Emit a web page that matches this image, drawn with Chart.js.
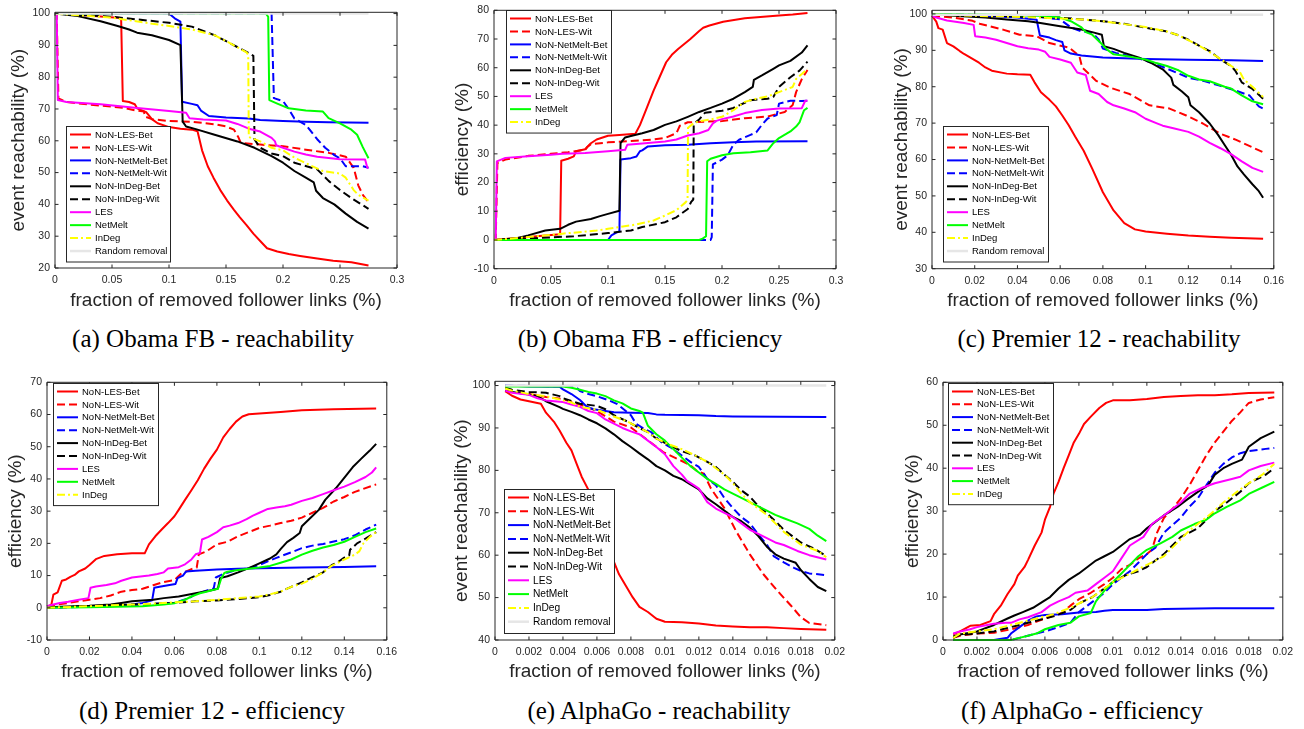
<!DOCTYPE html>
<html>
<head>
<meta charset="utf-8">
<script src="https://cdn.jsdelivr.net/npm/chart.js@4.4.1/dist/chart.umd.min.js"></script>
<style>
  html, body { margin: 0; padding: 0; background: #fff; }
  #page { position: relative; width: 1304px; height: 729px; overflow: hidden; }
  canvas { position: absolute; }
  .cap { position: absolute; width: 420px; text-align: center; font: 25px "Liberation Serif", "Times New Roman", serif; color: #000; line-height: 30px; white-space: nowrap; }
</style>
</head>
<body>
<div id="page"></div>
<script>
// series names, shared by all six panels
const LABELS = ["NoN-LES-Bet", "NoN-LES-Wit", "NoN-NetMelt-Bet", "NoN-NetMelt-Wit",
  "NoN-InDeg-Bet", "NoN-InDeg-Wit", "LES", "NetMelt", "InDeg", "Random removal"];

// ---- (a) Obama FB - reachability
const aXTicks = [0, 0.05, 0.1, 0.15, 0.2, 0.25, 0.3];
const aYTicks = [20, 30, 40, 50, 60, 70, 80, 90, 100];
const aLesBet = [[0,100],[0.02,99.6],[0.04,99.1],[0.058,98.6],[0.0595,72.5],[0.065,72.2],[0.07,71.5],[0.072,70.2],[0.08,69],[0.085,66.8],[0.09,65.5],[0.1,64.3],[0.11,63.8],[0.12,63.5],[0.125,63],[0.129,57],[0.134,52],[0.139,48.4],[0.145,44.5],[0.151,41.2],[0.157,38.3],[0.162,36],[0.168,33.5],[0.174,30.8],[0.18,28.5],[0.186,26.2],[0.195,25.2],[0.205,24.4],[0.215,23.8],[0.23,23],[0.244,22.3],[0.26,21.8],[0.275,20.8]];
const aLesWit = [[0,100],[0.0015,100],[0.003,73.3],[0.01,72.2],[0.03,71.4],[0.06,70.4],[0.07,69.6],[0.078,69.2],[0.079,67.6],[0.085,66.8],[0.1,66.2],[0.12,66],[0.14,65.2],[0.15,64.5],[0.157,63.5],[0.161,61],[0.163,59.3],[0.18,58.8],[0.2,58.3],[0.22,57.2],[0.24,56.2],[0.255,55],[0.262,51.5],[0.266,46],[0.27,43],[0.275,40.7]];
const aNmBet = [[0,100],[0.1,100],[0.105,98.5],[0.11,97.5],[0.1115,72.3],[0.12,71.6],[0.125,71.2],[0.128,69.5],[0.135,67.8],[0.15,67.3],[0.17,67],[0.18,66.5],[0.2,66.2],[0.22,66],[0.24,65.8],[0.275,65.7]];
const aNmWit = [[0,100],[0.19,100],[0.192,73.4],[0.2,72.5],[0.205,70],[0.21,67],[0.22,65],[0.23,60.5],[0.237,57.8],[0.245,55.5],[0.25,54.5],[0.255,52],[0.27,52],[0.275,51.5]];
const aIdBet = [[0,100],[0.02,99.2],[0.04,97.6],[0.055,96.1],[0.065,95],[0.072,94],[0.085,93.2],[0.1,91.7],[0.11,90.1],[0.112,66],[0.115,64.5],[0.125,63.5],[0.14,61.9],[0.16,59.8],[0.175,57.8],[0.19,55.2],[0.2,53.1],[0.21,50.5],[0.22,48.4],[0.227,46.9],[0.229,44.3],[0.235,42],[0.245,40],[0.255,37.1],[0.265,34.5],[0.275,32.4]];
const aIdWit = [[0,100],[0.05,99],[0.1,97.1],[0.12,95.9],[0.14,93.2],[0.155,90.4],[0.17,87.6],[0.174,86.7],[0.175,60.4],[0.18,57.8],[0.19,56],[0.2,55.2],[0.21,53.1],[0.23,51],[0.24,47.4],[0.25,44.5],[0.26,42],[0.275,38.6]];
const aLes = [[0,100],[0.0015,100],[0.0025,72.8],[0.01,72.2],[0.04,71.5],[0.07,70.4],[0.1,69.4],[0.115,68.8],[0.118,67.1],[0.13,66.7],[0.15,66.4],[0.16,65.3],[0.17,63.8],[0.18,62.9],[0.19,60.9],[0.193,59.8],[0.194,58.6],[0.2,57.8],[0.21,56.6],[0.22,55.7],[0.23,55],[0.25,54.2],[0.272,54.1],[0.274,51.5],[0.275,51.5]];
const aNm = [[0,100],[0.185,100],[0.187,99],[0.188,72.8],[0.195,71.7],[0.205,70.2],[0.22,69.5],[0.235,69.2],[0.24,67.1],[0.25,65.5],[0.26,63.5],[0.265,61.9],[0.27,58],[0.275,54.5]];
const aId = [[0,100],[0.02,99.5],[0.05,98.7],[0.08,97.1],[0.1,96.1],[0.12,95],[0.14,93.2],[0.155,90.4],[0.168,87.8],[0.1695,87],[0.17,61.2],[0.18,59.8],[0.19,57.8],[0.2,57],[0.21,54.7],[0.225,52.1],[0.235,50.5],[0.25,49.7],[0.255,48.4],[0.262,44.5],[0.266,43],[0.275,41.2]];
const aRnd = [[0,100],[0.275,100]];

// ---- (b) Obama FB - efficiency
const bXTicks = [0, 0.05, 0.1, 0.15, 0.2, 0.25, 0.3];
const bYTicks = [-10, 0, 10, 20, 30, 40, 50, 60, 70, 80];
const bLesBet = [[0,0],[0.03,1],[0.058,2],[0.059,27.6],[0.065,28.3],[0.07,29.1],[0.072,30.9],[0.08,31.6],[0.085,33.7],[0.09,35],[0.1,36.3],[0.11,36.6],[0.124,37],[0.128,40],[0.133,45],[0.14,52],[0.145,56.5],[0.151,61.9],[0.156,64.5],[0.1615,66.5],[0.172,69.9],[0.18,72.8],[0.1835,73.9],[0.189,74.7],[0.201,76],[0.22,77.2],[0.25,78.2],[0.262,78.5],[0.275,79.1]];
const bLesWit = [[0,0],[0.0015,0],[0.003,26.8],[0.01,28],[0.03,29.3],[0.05,30],[0.065,30.6],[0.08,31.4],[0.082,32.5],[0.085,33.4],[0.1,34],[0.12,34.5],[0.14,35],[0.15,35.5],[0.16,37.2],[0.163,39.8],[0.17,41],[0.2,41.4],[0.22,42.4],[0.24,43],[0.255,44.6],[0.262,47],[0.265,51.5],[0.27,56],[0.275,59.2]];
const bNmBet = [[0,0],[0.1,0],[0.103,1.6],[0.108,2.7],[0.11,3],[0.111,28],[0.12,28.5],[0.125,29.1],[0.128,30.9],[0.13,31.2],[0.135,32.6],[0.15,33],[0.17,33.2],[0.19,33.7],[0.21,34],[0.23,34.3],[0.275,34.4]];
const bNmWit = [[0,0],[0.19,0],[0.191,1],[0.192,26.3],[0.2,28],[0.205,29.5],[0.21,33.2],[0.215,34.9],[0.225,36.6],[0.23,37.5],[0.235,40.1],[0.24,42.3],[0.248,43.5],[0.25,47.5],[0.26,48.5],[0.27,48.4],[0.275,48.5]];
const bIdBet = [[0,0],[0.02,0.6],[0.03,1.6],[0.045,3.3],[0.058,3.9],[0.065,5.3],[0.072,6.4],[0.085,7.3],[0.093,8.3],[0.1,9.1],[0.11,10.2],[0.111,33.7],[0.115,35.7],[0.12,36.2],[0.13,37.2],[0.14,38.3],[0.15,40.1],[0.16,41.3],[0.17,42.9],[0.18,44.6],[0.19,46],[0.2,47.5],[0.21,49.2],[0.22,51.5],[0.227,53.3],[0.228,55.8],[0.235,57.3],[0.245,59.6],[0.25,60.8],[0.26,62.4],[0.27,65.3],[0.275,67.8]];
const bIdWit = [[0,0],[0.03,0.5],[0.07,1.3],[0.1,2.4],[0.12,3.3],[0.13,4.5],[0.15,6.2],[0.16,7.9],[0.17,10.8],[0.173,13.3],[0.1748,14.1],[0.1752,40.4],[0.18,42],[0.185,44.3],[0.2,45],[0.21,46],[0.225,48.7],[0.24,49.2],[0.245,49.8],[0.25,53.3],[0.26,56.7],[0.268,59],[0.275,62.1]];
const bLes = [[0,0],[0.0015,0],[0.0025,27.4],[0.01,28.6],[0.03,29.2],[0.05,29.7],[0.06,30],[0.08,30.3],[0.1,30.9],[0.115,31.4],[0.117,33.2],[0.13,33.6],[0.15,34.3],[0.16,35],[0.17,36.4],[0.18,37.2],[0.188,38.3],[0.192,40.6],[0.195,41.5],[0.2,42.1],[0.21,43],[0.22,44.2],[0.235,45.3],[0.25,45.8],[0.27,45.9],[0.273,48.5],[0.275,48.5]];
const bNm = [[0,0],[0.18,0],[0.183,0.5],[0.186,1.3],[0.187,27.4],[0.19,28.3],[0.2,29.5],[0.21,30.2],[0.225,30.6],[0.24,31.2],[0.245,33.7],[0.25,35.5],[0.26,37.8],[0.265,39.5],[0.268,41],[0.272,45.2],[0.275,46]];
const bId = [[0,0],[0.03,1],[0.06,2.2],[0.09,3.3],[0.1,3.9],[0.11,4.5],[0.125,5.4],[0.14,6.8],[0.15,8.5],[0.16,10.4],[0.168,13.1],[0.1698,14],[0.1702,39.1],[0.175,40.6],[0.18,41.4],[0.19,42],[0.2,42.9],[0.21,45.2],[0.22,48.1],[0.23,49.2],[0.24,50],[0.25,51.5],[0.262,53.3],[0.265,56.1],[0.27,57.8],[0.275,59.6]];

// ---- (c) Premier 12 - reachability
const cXTicks = [0, 0.02, 0.04, 0.06, 0.08, 0.1, 0.12, 0.14, 0.16];
const cYTicks = [30, 40, 50, 60, 70, 80, 90, 100];
const cLesBet = [[0,99.5],[0.002,97.9],[0.003,96.1],[0.005,95.7],[0.007,92],[0.01,91.1],[0.013,89.8],[0.015,89],[0.018,88],[0.022,86.6],[0.025,85.3],[0.028,84.4],[0.035,83.6],[0.04,83.4],[0.046,83.3],[0.048,81.2],[0.051,78.5],[0.055,76.4],[0.058,74.6],[0.061,72.1],[0.064,69.4],[0.067,66.3],[0.071,62.4],[0.075,57.5],[0.08,51],[0.085,46],[0.09,42.5],[0.095,40.8],[0.1,40.2],[0.11,39.6],[0.12,39.1],[0.13,38.8],[0.14,38.5],[0.155,38.2]];
const cLesWit = [[0,99.5],[0.01,99],[0.019,98.1],[0.0223,97.3],[0.0332,95.7],[0.041,94.3],[0.0488,93.9],[0.055,92],[0.0644,90.7],[0.069,88.4],[0.0703,85.3],[0.0769,81.6],[0.0831,79.8],[0.0925,78],[0.1018,74.9],[0.1112,74],[0.119,72.1],[0.1268,69.9],[0.1346,67.2],[0.1424,65.4],[0.155,62]];
const cNmBet = [[0,100],[0.02,99.6],[0.04,99],[0.049,98.4],[0.0505,94.1],[0.055,93.5],[0.058,92.8],[0.061,92.3],[0.062,90],[0.065,89.1],[0.07,88.6],[0.08,88],[0.1,87.6],[0.12,87.4],[0.14,87.3],[0.155,87.1]];
const cNmWit = [[0,100],[0.03,99.6],[0.05,99.2],[0.06,98.5],[0.065,96.3],[0.07,95.2],[0.075,94.8],[0.078,93],[0.08,90.5],[0.086,89.3],[0.0956,88],[0.105,86.2],[0.1143,83.9],[0.12,82.5],[0.127,81.6],[0.1346,80.3],[0.1424,78.9],[0.1486,77.6],[0.153,74.6],[0.155,74]];
const cIdBet = [[0,100],[0.01,99.5],[0.025,99],[0.035,98.5],[0.045,98],[0.05,97.6],[0.06,96.6],[0.07,95.7],[0.075,95],[0.0795,94.3],[0.0805,91.1],[0.085,90.4],[0.09,89.3],[0.097,88],[0.103,86.4],[0.108,84.8],[0.112,82.5],[0.113,80.5],[0.117,78.7],[0.12,77.1],[0.121,74.9],[0.125,73],[0.13,69.9],[0.134,66.7],[0.137,64],[0.14,61.3],[0.143,58.1],[0.146,55.9],[0.15,53.2],[0.153,51.3],[0.155,49.5]];
const cIdWit = [[0,100],[0.02,99.7],[0.04,99.3],[0.06,99],[0.07,98.5],[0.08,98],[0.09,97.3],[0.1,96.2],[0.11,95.2],[0.115,94.2],[0.12,92.9],[0.125,91.3],[0.13,89.8],[0.135,87.5],[0.14,85.7],[0.142,84.4],[0.145,81.2],[0.15,79.4],[0.155,76.7]];
const cLes = [[0,99.5],[0.002,99],[0.007,98.2],[0.015,97.5],[0.0195,97],[0.0202,93.9],[0.025,93.5],[0.03,92.9],[0.035,92],[0.04,91.1],[0.045,90.6],[0.05,90.2],[0.053,89.6],[0.055,88.2],[0.06,87.5],[0.065,86.6],[0.068,83.9],[0.072,83.2],[0.074,78.9],[0.078,78],[0.082,75.8],[0.085,74.9],[0.09,74],[0.095,73],[0.1,71.2],[0.105,70],[0.108,69.3],[0.113,68.6],[0.12,67.6],[0.125,66.3],[0.13,64.6],[0.135,63.1],[0.14,61.5],[0.145,59.5],[0.15,57.7],[0.155,56.6]];
const cNm = [[0,100],[0.03,99.8],[0.05,99.5],[0.06,99],[0.065,98],[0.07,96.3],[0.072,95],[0.075,94.3],[0.079,92],[0.082,90.2],[0.085,88.9],[0.09,88.5],[0.095,88],[0.1,87.5],[0.105,86.5],[0.11,85.7],[0.115,84.6],[0.12,83],[0.125,82],[0.13,81.5],[0.137,80],[0.14,79.5],[0.145,77.6],[0.15,76],[0.155,75.2]];
const cId = [[0,99.8],[0.02,99.5],[0.05,99],[0.07,98.5],[0.08,98],[0.09,97.2],[0.1,96.4],[0.11,95.2],[0.115,94.2],[0.12,92.8],[0.127,90.6],[0.133,88.4],[0.138,86.5],[0.144,84.2],[0.146,82],[0.15,80],[0.155,77.2]];
const cRnd = [[0,99.8],[0.155,99.8]];

// ---- (d) Premier 12 - efficiency
const dXTicks = [0, 0.02, 0.04, 0.06, 0.08, 0.1, 0.12, 0.14, 0.16];
const dYTicks = [-10, 0, 10, 20, 30, 40, 50, 60, 70];
const dLesBet = [[0,0.5],[0.002,0.8],[0.003,4.1],[0.005,4.8],[0.007,8.4],[0.009,8.8],[0.011,9.6],[0.013,10.2],[0.015,11.3],[0.018,12.2],[0.02,13.3],[0.023,15.1],[0.027,16.1],[0.033,16.6],[0.04,16.9],[0.046,16.9],[0.048,19.7],[0.051,22.2],[0.054,24.3],[0.057,26.3],[0.06,28.4],[0.062,30.4],[0.065,33.5],[0.068,36.5],[0.071,39.6],[0.074,43.2],[0.077,46.3],[0.08,49.1],[0.083,52.9],[0.086,55.5],[0.089,57.8],[0.092,59.4],[0.095,60.1],[0.1,60.3],[0.11,60.8],[0.12,61.3],[0.135,61.6],[0.155,61.9]];
const dLesWit = [[0,0.5],[0.005,1],[0.01,1.5],[0.015,2],[0.02,2.5],[0.025,3],[0.03,3.8],[0.035,5],[0.04,5.5],[0.045,5.9],[0.05,7],[0.055,8],[0.06,8.6],[0.063,10.5],[0.068,12],[0.0705,12.5],[0.0715,16.6],[0.075,17.5],[0.08,19.7],[0.085,20.5],[0.09,22.2],[0.095,23.5],[0.1,24.8],[0.105,25.5],[0.11,26.3],[0.115,27],[0.12,28],[0.125,29.5],[0.13,31],[0.135,33],[0.14,34.4],[0.145,36],[0.155,38.3]];
const dNmBet = [[0,0],[0.02,0.5],[0.04,1],[0.045,1.5],[0.0495,2.3],[0.0505,6.2],[0.053,6.5],[0.057,7],[0.0605,7.4],[0.0615,9.2],[0.064,10],[0.0655,11.3],[0.07,11.5],[0.08,11.9],[0.09,12.1],[0.1,12.3],[0.12,12.5],[0.14,12.7],[0.155,12.9]];
const dNmWit = [[0,0],[0.03,0.5],[0.045,1],[0.06,1.6],[0.067,3],[0.07,4.3],[0.075,5.3],[0.0785,6],[0.0795,9.4],[0.083,10.5],[0.088,11.5],[0.095,12.3],[0.1,13.3],[0.108,15.5],[0.115,17.2],[0.12,18.5],[0.125,19.3],[0.13,19.8],[0.14,21.3],[0.145,22.5],[0.15,24.3],[0.155,25.8]];
const dIdBet = [[0,0.2],[0.02,0.6],[0.03,1],[0.035,1.5],[0.04,2],[0.05,2.5],[0.055,3],[0.062,3.5],[0.07,4.5],[0.078,5.5],[0.0805,6],[0.0815,9.2],[0.085,9.8],[0.09,11],[0.095,12.3],[0.1,13.8],[0.105,15.3],[0.108,16.6],[0.11,18.2],[0.113,20.4],[0.116,21.7],[0.119,23.2],[0.12,25.3],[0.124,27.9],[0.128,30.4],[0.131,33.5],[0.136,37.1],[0.141,41.2],[0.144,43.7],[0.148,46.3],[0.152,48.8],[0.155,50.9]];
const dIdWit = [[0,0],[0.02,0.5],[0.04,1],[0.05,1.2],[0.06,1.5],[0.07,2],[0.08,2.3],[0.09,2.7],[0.1,3.3],[0.105,4],[0.11,5],[0.115,6.5],[0.12,7.9],[0.125,9.5],[0.13,11],[0.134,13.2],[0.137,14.2],[0.14,15.6],[0.1423,16.3],[0.1427,18],[0.146,20],[0.15,21.5],[0.155,23.5]];
const dLes = [[0,0.5],[0.003,1],[0.006,1.5],[0.01,1.9],[0.015,2.5],[0.0195,3],[0.0205,6.2],[0.023,6.6],[0.028,7.1],[0.032,7.6],[0.035,8.4],[0.04,9.4],[0.045,9.8],[0.048,10],[0.052,10.5],[0.055,11],[0.057,12.2],[0.062,12.6],[0.065,13.5],[0.068,15],[0.07,16.6],[0.072,17],[0.073,21.2],[0.076,22],[0.08,23.5],[0.083,25],[0.086,25.5],[0.09,26.3],[0.094,27.5],[0.097,28.6],[0.1,29.5],[0.104,30.7],[0.108,31.1],[0.112,31.5],[0.115,32],[0.12,33.2],[0.125,34.1],[0.13,35.3],[0.135,36.5],[0.14,37.6],[0.145,39],[0.15,40.6],[0.153,42],[0.155,43.6]];
const dNm = [[0,0],[0.02,0.2],[0.045,0.5],[0.055,1],[0.06,1.4],[0.065,2.5],[0.068,3.5],[0.072,4.5],[0.075,5],[0.078,5.5],[0.0805,5.9],[0.082,9],[0.0835,10.8],[0.085,11.2],[0.09,11.7],[0.095,12.1],[0.1,12.5],[0.105,13],[0.11,14],[0.115,15],[0.12,16.5],[0.125,17.7],[0.13,18.7],[0.135,19.5],[0.14,20.5],[0.145,22],[0.15,23.5],[0.155,24.6]];
const dId = [[0,0],[0.02,0.5],[0.04,1],[0.05,1.3],[0.06,1.7],[0.07,2],[0.08,2.5],[0.09,3],[0.1,3.5],[0.105,4.2],[0.11,5],[0.115,6.5],[0.12,7.5],[0.125,9],[0.13,11],[0.134,13],[0.14,15],[0.145,16.5],[0.147,17.5],[0.149,20],[0.152,22],[0.155,23.5]];

// ---- (e) AlphaGo - reachability
const eXTicks = [0, 0.002, 0.004, 0.006, 0.008, 0.01, 0.012, 0.014, 0.016, 0.018, 0.02];
const eYTicks = [40, 50, 60, 70, 80, 90, 100];
const eLesBet = [[0.0006,98.7],[0.001,97.6],[0.0015,96.7],[0.002,96.3],[0.0027,95.7],[0.003,93.6],[0.0035,91.3],[0.0038,89.4],[0.0042,86.5],[0.0045,84.7],[0.0048,81.6],[0.0051,78.5],[0.0055,75.4],[0.0058,72],[0.0061,69],[0.0065,64.1],[0.0069,59.4],[0.0073,55.5],[0.0077,52.8],[0.0081,50.1],[0.0085,47.8],[0.009,46.6],[0.0095,45],[0.0098,44.6],[0.01,44.3],[0.011,44.2],[0.012,43.9],[0.013,43.4],[0.014,43.2],[0.015,43],[0.016,43],[0.017,42.8],[0.018,42.6],[0.0195,42.4]];
const eLesWit = [[0.0006,98.8],[0.001,98.5],[0.002,98],[0.003,97.3],[0.004,96.8],[0.005,95.5],[0.006,94],[0.007,91.5],[0.008,90.1],[0.0089,87.4],[0.0099,84.3],[0.0109,82.4],[0.0115,81.2],[0.0119,79.8],[0.0123,79.2],[0.0127,75.8],[0.0135,71.1],[0.0142,65.6],[0.015,60.2],[0.0158,55.5],[0.0166,51.7],[0.0174,48.2],[0.018,45.4],[0.0185,44],[0.0195,43.5]];
const eNmBet = [[0.0006,100],[0.002,99.8],[0.0038,99.7],[0.004,99.1],[0.0045,98],[0.005,96.6],[0.0054,95],[0.0058,94.4],[0.0065,94],[0.007,93.7],[0.008,93.6],[0.009,93.5],[0.0095,93.2],[0.01,93.1],[0.012,93],[0.013,92.8],[0.014,92.7],[0.0195,92.6]];
const eNmWit = [[0.0006,100],[0.004,99.8],[0.0048,99.5],[0.005,98.7],[0.0055,98],[0.006,97.5],[0.0067,96.5],[0.0072,95.6],[0.0077,94],[0.008,93],[0.0083,91],[0.0088,89.7],[0.0092,89],[0.0098,86.6],[0.0103,85.5],[0.011,83.5],[0.0115,82],[0.012,80.8],[0.0125,78],[0.013,76.5],[0.0135,73.5],[0.014,71.1],[0.0145,69],[0.015,67.5],[0.0155,64.9],[0.016,62.5],[0.0164,59.8],[0.017,58.3],[0.0176,57],[0.018,56.3],[0.0185,55.7],[0.0195,55.3]];
const eIdBet = [[0.0006,98.8],[0.001,98.5],[0.002,97.9],[0.0025,97.5],[0.003,96.3],[0.0038,94.9],[0.004,94.5],[0.0045,93.8],[0.005,93],[0.0055,92],[0.006,91.1],[0.0065,89.9],[0.007,88.5],[0.0075,86.9],[0.008,85.5],[0.0085,84],[0.009,82.6],[0.0095,81],[0.01,80],[0.0105,78.7],[0.011,77.9],[0.0115,76.7],[0.012,75.5],[0.0125,73.4],[0.013,72],[0.0135,70.5],[0.014,69],[0.0145,68],[0.015,66.5],[0.0155,64.5],[0.016,62],[0.0165,60.2],[0.017,59.2],[0.0177,58.2],[0.018,56.5],[0.0185,54.4],[0.019,52.5],[0.0195,51.5]];
const eIdWit = [[0.0006,99.5],[0.001,99],[0.002,98.5],[0.003,98.3],[0.0038,97.5],[0.004,97],[0.005,95.7],[0.006,95.2],[0.0065,94.4],[0.007,93],[0.0078,91.5],[0.0085,90],[0.009,89],[0.0095,87.5],[0.01,86.5],[0.0105,85.5],[0.011,84.5],[0.0118,83.5],[0.0125,82],[0.013,80.8],[0.0135,79],[0.014,77.3],[0.0145,75.3],[0.015,73.8],[0.0155,71.6],[0.016,69.9],[0.0165,68],[0.017,66],[0.0175,64.5],[0.018,63],[0.0188,61.5],[0.0195,59.8]];
const eLes = [[0.0006,98.8],[0.001,98.3],[0.002,97.8],[0.0025,97],[0.003,96.5],[0.004,96.1],[0.0045,95.5],[0.005,95],[0.0055,94],[0.006,93.5],[0.0065,92],[0.007,91],[0.0075,90],[0.008,89.2],[0.0085,88.5],[0.009,87],[0.0095,85.5],[0.01,83.8],[0.0105,81],[0.011,79],[0.0113,77.5],[0.0117,76.5],[0.012,75.7],[0.0125,72.5],[0.013,71],[0.0135,70],[0.014,69],[0.0145,67.5],[0.015,66],[0.0155,65],[0.016,64],[0.0165,63],[0.017,62.4],[0.0178,61],[0.0185,60],[0.0195,59]];
const eNm = [[0.0006,99.8],[0.004,99.8],[0.0045,99.5],[0.005,99],[0.0055,98.5],[0.006,98.1],[0.0065,97.5],[0.007,96.5],[0.0075,95.8],[0.008,94.6],[0.0085,94],[0.0087,93.6],[0.009,90.5],[0.0095,88.5],[0.01,87],[0.0105,85],[0.011,83],[0.0115,81],[0.012,79.5],[0.0125,78],[0.013,76.8],[0.0135,75.5],[0.014,74.5],[0.0145,73.5],[0.015,72.5],[0.0155,71.5],[0.016,70.5],[0.0165,69.5],[0.017,68.7],[0.0178,67.5],[0.0185,66.2],[0.019,64.6],[0.0195,63.3]];
const eId = [[0.0006,99.3],[0.001,98.8],[0.002,98],[0.003,97.5],[0.0035,97],[0.0045,96],[0.005,95],[0.006,94.3],[0.0068,93],[0.0078,91.5],[0.0085,90],[0.009,89],[0.0095,87.5],[0.01,86.5],[0.011,85],[0.0118,83.5],[0.0125,82],[0.013,80.5],[0.0135,79],[0.014,77],[0.0145,74.5],[0.015,72.5],[0.0155,71],[0.016,69.5],[0.0165,67.5],[0.017,65.5],[0.0175,64],[0.018,62.5],[0.019,61],[0.0195,59.5]];
const eRnd = [[0.0006,100],[0.0195,100]];

// ---- (f) AlphaGo - efficiency
const fXTicks = [0, 0.002, 0.004, 0.006, 0.008, 0.01, 0.012, 0.014, 0.016, 0.018, 0.02];
const fYTicks = [0, 10, 20, 30, 40, 50, 60];
const fLesBet = [[0.0006,1.3],[0.001,2],[0.0016,3.3],[0.0022,3.5],[0.0028,4.4],[0.003,6],[0.0034,8],[0.0038,10.7],[0.0042,13],[0.0044,15],[0.0048,17],[0.005,18.6],[0.0054,22],[0.0058,25],[0.006,28],[0.0063,31],[0.0065,34],[0.0068,36.8],[0.0071,40],[0.0074,43],[0.0077,46],[0.008,48],[0.0083,50.3],[0.0087,52],[0.0092,54],[0.0096,55.2],[0.01,55.8],[0.011,55.8],[0.012,56.1],[0.013,56.6],[0.014,56.8],[0.015,57],[0.016,57],[0.017,57.2],[0.018,57.5],[0.0195,57.6]];
const fLesWit = [[0.0006,0.5],[0.001,1],[0.002,1.5],[0.003,1.7],[0.004,2.5],[0.005,3.5],[0.006,5],[0.007,6.3],[0.0075,8],[0.008,9.5],[0.0087,11],[0.0095,13],[0.01,14.5],[0.0105,16.5],[0.011,17.5],[0.0115,19],[0.012,20],[0.0123,21],[0.0126,25],[0.013,28.4],[0.0135,30.5],[0.014,33],[0.0145,36],[0.015,39.5],[0.0155,43],[0.016,46],[0.0165,48.5],[0.017,51],[0.0175,53],[0.018,55.2],[0.0187,56],[0.0195,56.5]];
const fNmBet = [[0.0006,0],[0.003,0],[0.0038,0.5],[0.004,1.5],[0.0045,3],[0.005,4.5],[0.0055,5.5],[0.006,5.8],[0.007,6],[0.008,6.4],[0.009,6.5],[0.0095,6.8],[0.01,7],[0.012,7],[0.013,7.2],[0.014,7.3],[0.016,7.4],[0.0195,7.4]];
const fNmWit = [[0.0006,0],[0.004,0],[0.0045,0.5],[0.005,1],[0.0055,1.5],[0.006,2],[0.0068,3],[0.0075,4],[0.008,6.5],[0.0085,8],[0.009,9.5],[0.0095,11],[0.01,13],[0.0105,14.5],[0.011,16],[0.0115,18],[0.012,20],[0.0125,21.5],[0.013,25],[0.014,28.5],[0.0145,31],[0.015,33],[0.0155,36],[0.016,39],[0.0165,41],[0.017,42.5],[0.0175,43.5],[0.018,44],[0.019,44.5],[0.0195,44.7]];
const fIdBet = [[0.0006,0.8],[0.001,1.3],[0.002,2],[0.003,3.5],[0.0038,5],[0.0042,5.7],[0.0047,6.5],[0.0053,7.5],[0.0059,9],[0.0063,10],[0.0068,12],[0.0074,14],[0.008,15.5],[0.0085,17],[0.009,18.5],[0.0095,19.5],[0.01,20.5],[0.0105,22],[0.011,23.5],[0.0116,24.5],[0.012,26],[0.0125,27.5],[0.013,29],[0.0138,31],[0.0143,32.5],[0.015,34.5],[0.0156,36],[0.016,38.5],[0.0165,40],[0.017,41],[0.0176,42],[0.018,45],[0.0187,47],[0.0195,48.5]];
const fIdWit = [[0.0006,0.5],[0.001,1.2],[0.002,1.5],[0.003,2],[0.004,3],[0.005,4],[0.006,5],[0.0065,5.5],[0.0075,7],[0.008,8.5],[0.0088,10],[0.0095,12],[0.01,13.5],[0.0107,15],[0.0115,16],[0.012,17],[0.0125,18.5],[0.013,20],[0.0135,22],[0.014,24],[0.015,26],[0.0155,28],[0.016,30],[0.0167,32],[0.0175,34.5],[0.018,36.5],[0.019,38.5],[0.0195,40]];
const fLes = [[0.0006,1.5],[0.001,2],[0.0016,2.5],[0.002,3],[0.0026,3.5],[0.003,3.8],[0.0037,4],[0.004,4],[0.0045,4.8],[0.005,5.3],[0.0058,6.5],[0.0063,8],[0.0068,9],[0.0074,10],[0.0078,11],[0.0085,11.5],[0.009,13],[0.0095,14.5],[0.01,16],[0.0105,19],[0.011,22],[0.0118,24],[0.0123,27],[0.013,29],[0.0135,30.5],[0.014,32],[0.0145,34],[0.0153,35.5],[0.016,36.5],[0.017,37.5],[0.0175,38],[0.018,39.5],[0.0187,40.5],[0.0195,41.3]];
const fNm = [[0.0006,0],[0.002,0],[0.004,0],[0.0045,0.5],[0.005,1],[0.0055,1.5],[0.006,2.5],[0.0068,3.5],[0.0075,4],[0.008,5.5],[0.0087,6.3],[0.009,9],[0.0095,11.5],[0.01,13.5],[0.0105,15.5],[0.011,17.5],[0.0115,19.5],[0.012,21],[0.0128,22.5],[0.0135,24],[0.014,25.5],[0.0148,27],[0.0155,28],[0.016,29.5],[0.0167,31],[0.0175,32.5],[0.018,34],[0.0188,35.5],[0.0195,36.8]];
const fId = [[0.0006,0.5],[0.001,1.5],[0.002,2],[0.003,2.5],[0.004,3.5],[0.005,4.5],[0.006,5.5],[0.0065,6],[0.0075,7.5],[0.008,8.5],[0.0088,10],[0.0095,12],[0.01,13.5],[0.0108,15],[0.0115,16.5],[0.012,17.5],[0.0125,18.5],[0.013,19.5],[0.0135,21.5],[0.014,23.5],[0.0145,25.5],[0.015,27],[0.0158,29.5],[0.0165,32],[0.0173,34.5],[0.018,36.5],[0.0188,38.5],[0.0195,41]];

// line styles (MATLAB-ish)
const COLORS = ["#ff0000", "#ff0000", "#0000ff", "#0000ff", "#000000", "#000000", "#ff00ff", "#00ff00", "#ffff00", "#e6e6e6"];
const DASHES = [[], [8, 4], [], [8, 4], [], [8, 4], [], [], [8, 3, 2, 3], []];
const AXIS_COLOR = "#262626";
const FONT = '"Liberation Sans", Arial, sans-serif';
const X_TITLE = "fraction of removed follower links (%)";

// layout of each panel: plot box [left, top, right, bottom] in page px
const PANELS = [
  { series: [aLesBet, aLesWit, aNmBet, aNmWit, aIdBet, aIdWit, aLes, aNm, aId, aRnd],
    xTicks: aXTicks, yTicks: aYTicks, xMax: 0.3, yMin: 20, yMax: 100.4,
    yTitle: "event reachability (%)", box: [55, 9.5, 397, 268], yTitleX: 19, xTitleY: 301,
    legend: { x: 66, y: 126, w: 104, row: 12.95, size: 9.5 },
    caption: "(a) Obama FB - reachability", capX: 213, capY: 339 },
  { series: [bLesBet, bLesWit, bNmBet, bNmWit, bIdBet, bIdWit, bLes, bNm, bId],
    xTicks: bXTicks, yTicks: bYTicks, xMax: 0.3, yMin: -10, yMax: 80,
    yTitle: "efficiency (%)", box: [494, 7, 836, 268.7], yTitleX: 463, xTitleY: 301,
    legend: { x: 506, y: 10, w: 105, row: 12.95, size: 9.5 },
    caption: "(b) Obama FB - efficiency", capX: 650, capY: 339 },
  { series: [cLesBet, cLesWit, cNmBet, cNmWit, cIdBet, cIdWit, cLes, cNm, cId, cRnd],
    xTicks: cXTicks, yTicks: cYTicks, xMax: 0.16, yMin: 30, yMax: 101,
    yTitle: "event reachability (%)", box: [932, 7, 1274, 268.7], yTitleX: 902, xTitleY: 301,
    legend: { x: 943, y: 126, w: 105, row: 12.95, size: 9.5 },
    caption: "(c) Premier 12 - reachability", capX: 1099, capY: 339 },
  { series: [dLesBet, dLesWit, dNmBet, dNmWit, dIdBet, dIdWit, dLes, dNm, dId],
    xTicks: dXTicks, yTicks: dYTicks, xMax: 0.16, yMin: -10, yMax: 70,
    yTitle: "efficiency (%)", box: [47, 379.3, 387, 640], yTitleX: 16, xTitleY: 672,
    legend: { x: 53, y: 383, w: 105, row: 12.9, size: 9.5 },
    caption: "(d) Premier 12 - efficiency", capX: 212, capY: 711 },
  { series: [eLesBet, eLesWit, eNmBet, eNmWit, eIdBet, eIdWit, eLes, eNm, eId, eRnd],
    xTicks: eXTicks, yTicks: eYTicks, xMax: 0.02, yMin: 40, yMax: 101,
    yTitle: "event reachability (%)", box: [495, 378.4, 835, 640], yTitleX: 462, xTitleY: 672,
    legend: { x: 504, y: 489, w: 110, row: 13.8, size: 10.2 },
    caption: "(e) AlphaGo - reachability", capX: 659, capY: 711 },
  { series: [fLesBet, fLesWit, fNmBet, fNmWit, fIdBet, fIdWit, fLes, fNm, fId],
    xTicks: fXTicks, yTicks: fYTicks, xMax: 0.02, yMin: 0, yMax: 60,
    yTitle: "efficiency (%)", box: [943, 379.3, 1283, 640], yTitleX: 913, xTitleY: 672,
    legend: { x: 948, y: 383, w: 105, row: 12.8, size: 9.5 },
    caption: "(f) AlphaGo - efficiency", capX: 1082, capY: 711 },
];

const TITLE_SIZE = 19;
const TITLE_HALF = TITLE_SIZE * 1.2 / 2;
const TICK_LEN = 3.5;

// axes box with inward ticks on all four sides
const boxPlugin = {
  id: "matlabBox",
  afterDatasetsDraw(chart) {
    const { ctx, chartArea: a, scales: { x, y } } = chart;
    ctx.save();
    ctx.strokeStyle = AXIS_COLOR;
    ctx.lineWidth = 1;
    ctx.beginPath();
    x.ticks.forEach((t) => {
      const px = x.getPixelForValue(t.value);
      ctx.moveTo(px, a.bottom); ctx.lineTo(px, a.bottom - TICK_LEN);
      ctx.moveTo(px, a.top); ctx.lineTo(px, a.top + TICK_LEN);
    });
    y.ticks.forEach((t) => {
      const py = y.getPixelForValue(t.value);
      ctx.moveTo(a.left, py); ctx.lineTo(a.left + TICK_LEN, py);
      ctx.moveTo(a.right, py); ctx.lineTo(a.right - TICK_LEN, py);
    });
    ctx.rect(a.left, a.top, a.right - a.left, a.bottom - a.top);
    ctx.stroke();
    ctx.restore();
  },
};

// legend box inside the axes, like MATLAB
const legendPlugin = {
  id: "boxLegend",
  afterDraw(chart, args, opts) {
    const { ctx } = chart;
    const sets = chart.data.datasets;
    const x0 = opts.x, y0 = opts.y, row = opts.row;
    const h = sets.length * row + 6;
    ctx.save();
    ctx.fillStyle = "#fff";
    ctx.fillRect(x0, y0, opts.w, h);
    ctx.strokeStyle = AXIS_COLOR;
    ctx.lineWidth = 1;
    ctx.strokeRect(x0 + 0.5, y0 + 0.5, opts.w, h);
    ctx.font = opts.size + "px " + FONT;
    ctx.textBaseline = "middle";
    sets.forEach((ds, i) => {
      const cy = y0 + 8.5 + i * row;
      ctx.strokeStyle = ds.borderColor;
      ctx.lineWidth = ds.borderWidth;
      ctx.setLineDash(ds.borderDash);
      ctx.beginPath();
      ctx.moveTo(x0 + 4, cy); ctx.lineTo(x0 + 25, cy);
      ctx.stroke();
      ctx.setLineDash([]);
      ctx.fillStyle = "#000";
      ctx.fillText(ds.label, x0 + 29, cy + 0.5);
    });
    ctx.restore();
  },
};

const page = document.getElementById("page");

PANELS.forEach((p) => {
  const [left, top, right, bottom] = p.box;
  const cl = Math.floor(p.yTitleX - TITLE_HALF);
  const ct = Math.floor(top - 8);
  const cr = Math.ceil(right + 16);
  const cb = Math.ceil(p.xTitleY + TITLE_HALF);
  const canvas = document.createElement("canvas");
  canvas.width = cr - cl;
  canvas.height = cb - ct;
  canvas.style.left = cl + "px";
  canvas.style.top = ct + "px";
  page.appendChild(canvas);

  const cap = document.createElement("div");
  cap.className = "cap";
  cap.textContent = p.caption;
  cap.style.left = (p.capX - 210) + "px";
  cap.style.top = (p.capY - 15) + "px";
  page.appendChild(cap);

  const n = p.series.length;
  new Chart(canvas, {
    type: "line",
    data: {
      datasets: p.series.map((pts, i) => ({
        label: LABELS[i],
        data: pts.map(([x, y]) => ({ x, y })),
        borderColor: COLORS[i],
        borderDash: DASHES[i],
        borderWidth: i === 9 ? 2.5 : 2,
        borderJoinStyle: "round",
        pointRadius: 0,
        fill: false,
        tension: 0,
        clip: false,
        order: n - i,
      })),
    },
    options: {
      responsive: false,
      animation: false,
      events: [],
      layout: { padding: { top: top - ct, right: cr - right, left: 0, bottom: 0 } },
      plugins: {
        legend: { display: false },
        tooltip: { enabled: false },
        boxLegend: { x: p.legend.x - cl, y: p.legend.y - ct, w: p.legend.w, row: p.legend.row, size: p.legend.size },
      },
      scales: {
        x: {
          type: "linear",
          min: 0,
          max: p.xMax,
          afterBuildTicks: (s) => { s.ticks = p.xTicks.map((v) => ({ value: v })); },
          afterFit: (s) => { s.height = cb - bottom; },
          grid: { display: false, drawTicks: false },
          border: { display: false },
          ticks: { color: AXIS_COLOR, font: { family: FONT, size: 10.5 }, padding: 6, maxRotation: 0, autoSkip: false, callback: (v) => String(v) },
          title: { display: true, text: X_TITLE, color: AXIS_COLOR, font: { family: FONT, size: TITLE_SIZE },
            padding: { top: 0, bottom: cb - TITLE_HALF - p.xTitleY } },
        },
        y: {
          type: "linear",
          min: p.yMin,
          max: p.yMax,
          afterBuildTicks: (s) => { s.ticks = p.yTicks.map((v) => ({ value: v })); },
          afterFit: (s) => { s.width = left - cl; },
          grid: { display: false, drawTicks: false },
          border: { display: false },
          ticks: { color: AXIS_COLOR, font: { family: FONT, size: 10.5 }, padding: 5, autoSkip: false, callback: (v) => String(v) },
          title: { display: true, text: p.yTitle, color: AXIS_COLOR, font: { family: FONT, size: TITLE_SIZE },
            padding: { top: p.yTitleX - TITLE_HALF - cl, bottom: 0 } },
        },
      },
    },
    plugins: [boxPlugin, legendPlugin],
  });
});
</script>
</body>
</html>
